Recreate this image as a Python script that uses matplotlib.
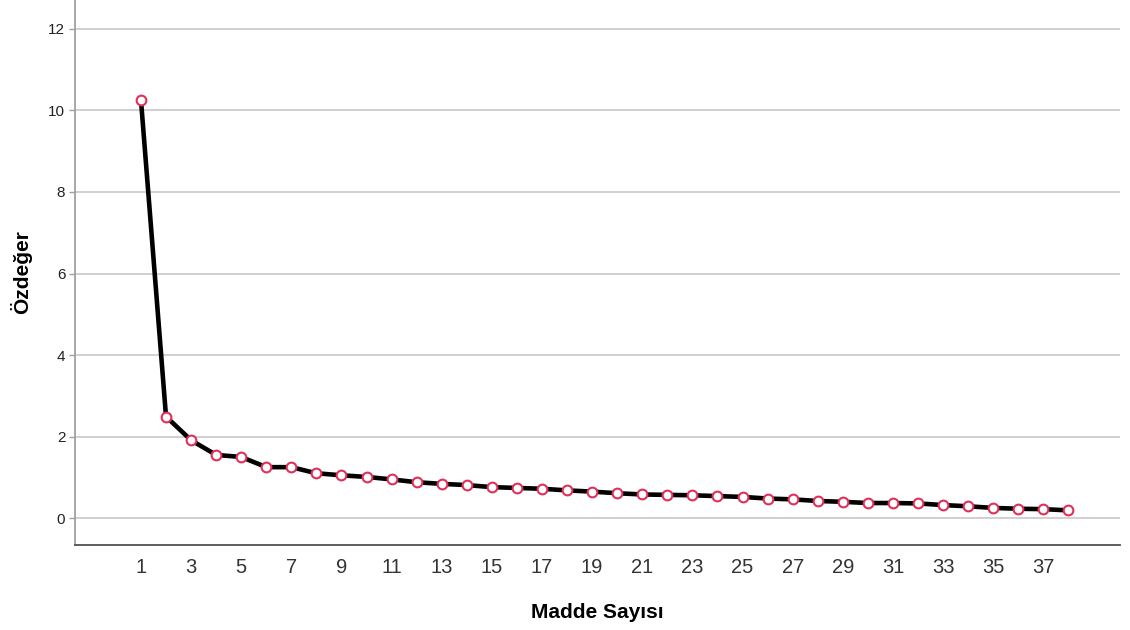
import numpy as np
import matplotlib
matplotlib.use("Agg")
from matplotlib import pyplot as plt

plt.rcParams['font.family'] = ['Liberation Sans', 'DejaVu Sans']

# scree plot values
madde = np.arange(1, 39)
ozdeger = [10.26, 2.49, 1.91, 1.55, 1.50, 1.25, 1.25, 1.10, 1.05, 1.01,
           0.95, 0.88, 0.84, 0.81, 0.76, 0.74, 0.72, 0.68, 0.65, 0.61,
           0.58, 0.57, 0.56, 0.54, 0.52, 0.48, 0.46, 0.42, 0.40, 0.37,
           0.37, 0.36, 0.32, 0.29, 0.25, 0.23, 0.22, 0.19]
x_ticks = list(range(1, 38, 2))
y_ticks = [0, 2, 4, 6, 8, 10, 12]

fig = plt.figure(figsize=(11.3, 6.3), dpi=100)
ax = fig.add_axes([0.0664, 0.1349, 0.925, 0.8651])

ax.plot(madde, ozdeger, color='black', linewidth=3.3, zorder=3,
        marker='o', markersize=7, markerfacecolor='white',
        markeredgecolor='#e0305a', markeredgewidth=1.5)

ax.set_xlim(-1.63, 40.07)
ax.set_ylim(-0.66, 12.71)
ax.set_xticks(x_ticks)
ax.set_yticks(y_ticks)
ax.grid(axis='y', color='#c8c8c8', linewidth=1.2)
ax.set_axisbelow(True)

for s in ['top', 'right']:
    ax.spines[s].set_visible(False)
ax.spines['left'].set_color('#a0a0a0')
ax.spines['left'].set_linewidth(1.3)
ax.spines['bottom'].set_color('#505050')
ax.spines['bottom'].set_linewidth(1.3)

ax.tick_params(axis='x', length=0, pad=9, labelsize=14.5, labelcolor='#333333')
ax.tick_params(axis='y', length=4, width=1, color='#a0a0a0', pad=3,
               labelsize=11, labelcolor='#222222')

ax.set_xlabel('Madde Sayısı', fontsize=15, fontweight='bold', labelpad=19)
ax.set_ylabel('Özdeğer', fontsize=15, fontweight='bold', labelpad=12)

fig.savefig('out.png', dpi=100)
